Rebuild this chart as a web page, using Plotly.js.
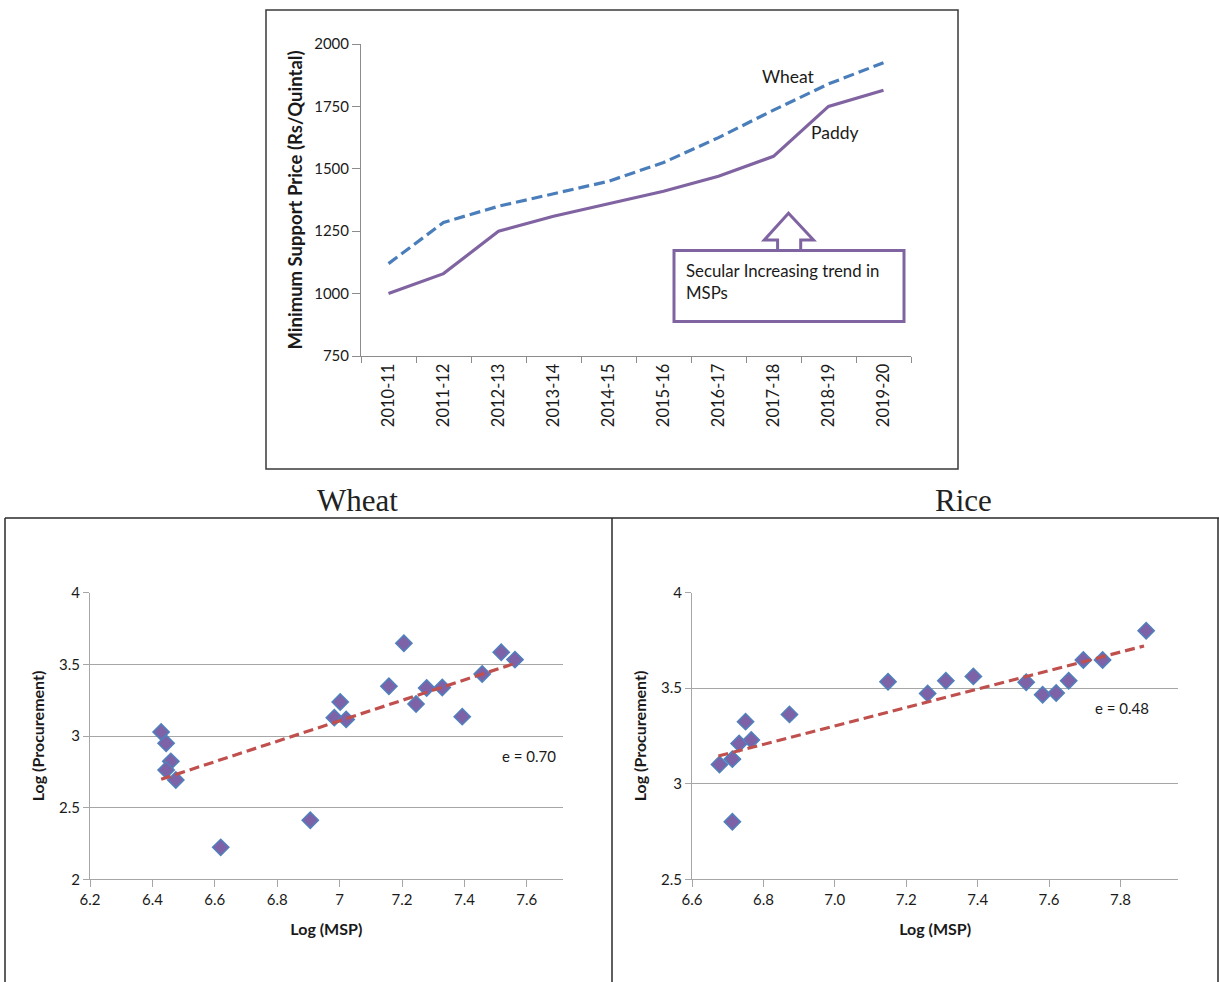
<!DOCTYPE html>
<html>
<head>
<meta charset="utf-8">
<script src="https://cdn.plot.ly/plotly-3.0.1.min.js"></script>
<style>
html,body{margin:0;padding:0;background:#fff;}
#chart{width:1219px;height:982px;}
</style>
</head>
<body>
<div id="chart"></div>
<script>
// ---------- data ----------
const years = ['2010-11','2011-12','2012-13','2013-14','2014-15','2015-16','2016-17','2017-18','2018-19','2019-20'];
const wheatMSP = [1120,1285,1350,1400,1450,1525,1625,1735,1840,1925];
const paddyMSP = [1000,1080,1250,1310,1360,1410,1470,1550,1750,1815];

const wheatLogMSP  = [6.428,6.444,6.459,6.444,6.475,6.619,6.906,6.983,7.002,7.021,7.158,7.206,7.245,7.279,7.329,7.393,7.457,7.518,7.562];
const wheatLogProc = [3.028,2.949,2.823,2.763,2.693,2.223,2.412,3.128,3.237,3.116,3.347,3.647,3.223,3.335,3.338,3.135,3.433,3.584,3.533];
const wheatTrendX = [6.428,7.562];
const wheatTrendY = [2.698,3.507];
const wheatElasticity = '0.70';

const riceLogMSP  = [6.677,6.713,6.713,6.732,6.750,6.766,6.873,7.149,7.260,7.311,7.388,7.536,7.582,7.620,7.655,7.696,7.750,7.872];
const riceLogProc = [3.101,3.129,2.801,3.211,3.325,3.229,3.363,3.534,3.473,3.539,3.562,3.531,3.466,3.475,3.539,3.648,3.648,3.801];
const riceTrendX = [6.674,7.866];
const riceTrendY = [3.145,3.721];
const riceElasticity = '0.48';

// ---------- helpers (pixel -> paper) ----------
const W = 1219, H = 982;
const fx = p => p / W;
const fy = p => 1 - p / H;

const FONT = 'Lato, "Open Sans", sans-serif';
const AX = '#8c8c8c';
const GRID = '#a6a6a6';
const TXT = '#1a1a1a';

const markerStyle = {symbol:'diamond', size:12.5, color:'#7E62A8', line:{color:'#4F81BD', width:1.5}};

const traces = [
  {x: years, y: wheatMSP, type:'scatter', mode:'lines', name:'Wheat', xaxis:'x', yaxis:'y',
   line:{color:'#4A7EBB', width:3.2, dash:'11px,5px'}},
  {x: years, y: paddyMSP, type:'scatter', mode:'lines', name:'Paddy', xaxis:'x', yaxis:'y',
   line:{color:'#8064A2', width:3.2}},
  {x: wheatLogMSP, y: wheatLogProc, type:'scatter', mode:'markers', name:'Wheat', xaxis:'x2', yaxis:'y2', marker: markerStyle},
  {x: wheatTrendX, y: wheatTrendY, type:'scatter', mode:'lines', name:'Wheat trend', xaxis:'x2', yaxis:'y2',
   line:{color:'#C0504D', width:3.2, dash:'10px,5px'}},
  {x: riceLogMSP, y: riceLogProc, type:'scatter', mode:'markers', name:'Rice', xaxis:'x3', yaxis:'y3', marker: markerStyle},
  {x: riceTrendX, y: riceTrendY, type:'scatter', mode:'lines', name:'Rice trend', xaxis:'x3', yaxis:'y3',
   line:{color:'#C0504D', width:3.2, dash:'10px,5px'}}
];

const tickFont = {family: FONT, size: 15, color: TXT};
const titleFont = {family: FONT, size: 16, color: TXT};

function scatterX(domain, range, fmt){
  return {domain: domain, range: range, tick0: range[0], dtick: 0.2, tickformat: fmt,
    showgrid:false, zeroline:false, showline:true, linecolor:GRID, linewidth:1,
    ticks:'outside', ticklen:7, tickcolor:GRID, tickfont: tickFont, automargin:false,
    title:{text:'<b>Log (MSP)</b>', font: titleFont, standoff: 16}};
}
function scatterY(domain, range, anchor){
  return {domain: domain, range: range, dtick: 0.5, anchor: anchor,
    showgrid:true, gridcolor:GRID, gridwidth:1, zeroline:false, showline:true, linecolor:GRID, linewidth:1,
    ticks:'outside', ticklen:6, tickcolor:GRID, tickfont: tickFont, automargin:false,
    title:{text:'<b>Log (Procurement)</b>', font: titleFont, standoff: 10}};
}

const layout = {
  width: W, height: H,
  margin:{l:0, r:0, t:0, b:0},
  paper_bgcolor:'#ffffff', plot_bgcolor:'rgba(0,0,0,0)',
  showlegend:false,
  font:{family: FONT, color: TXT},
  xaxis:{domain:[fx(361), fx(911)], anchor:'y', type:'category', range:[-0.5, 9.5],
    tickson:'boundaries', ticks:'outside', ticklen:6, tickcolor:AX,
    showline:true, linecolor:AX, linewidth:1, showgrid:false, zeroline:false,
    tickangle:-90, tickfont:{family: FONT, size:16.5, color: TXT}, automargin:false},
  yaxis:{domain:[fy(356), fy(44)], anchor:'x', range:[750, 2000], tickvals:[750,1000,1250,1500,1750,2000],
    ticks:'outside', ticklen:8, tickcolor:AX, showline:true, linecolor:AX, linewidth:1,
    showgrid:false, zeroline:false, tickfont:{family: FONT, size:15, color: TXT}, automargin:false,
    title:{text:'<b>Minimum Support Price (Rs/Quintal)</b>', font:{family: FONT, size:18.5, color: TXT}, standoff: 6}},
  xaxis2: Object.assign(scatterX([fx(90), fx(562.7)], [6.2, 7.715], ''), {anchor:'y2'}),
  yaxis2: scatterY([fy(879.3), fy(592.7)], [2, 4], 'x2'),
  xaxis3: Object.assign(scatterX([fx(692), fx(1178.3)], [6.6, 7.962], '.1f'), {anchor:'y3'}),
  yaxis3: scatterY([fy(879.3), fy(592.7)], [2.5, 4], 'x3'),
  shapes: [
    // top chart frame
    {type:'rect', xref:'paper', yref:'paper', x0:fx(266), x1:fx(958), y0:fy(469), y1:fy(10),
     line:{color:'#3a3a3a', width:1.5}},
    // bottom frames
    {type:'line', xref:'paper', yref:'paper', x0:fx(5), x1:fx(1219), y0:fy(518), y1:fy(518), line:{color:'#2a2a2a', width:1.5}},
    {type:'line', xref:'paper', yref:'paper', x0:fx(5), x1:fx(5), y0:fy(518), y1:fy(982), line:{color:'#2a2a2a', width:1.5}},
    {type:'line', xref:'paper', yref:'paper', x0:fx(612), x1:fx(612), y0:fy(518), y1:fy(982), line:{color:'#2a2a2a', width:1.5}},
    {type:'line', xref:'paper', yref:'paper', x0:fx(1218), x1:fx(1218), y0:fy(518), y1:fy(982), line:{color:'#2a2a2a', width:1.5}},
    // callout box
    {type:'rect', xref:'paper', yref:'paper', x0:fx(674), x1:fx(904), y0:fy(321.5), y1:fy(250.5),
     line:{color:'#8064A2', width:3}, fillcolor:'#ffffff'},
    // up arrow
    {type:'path', xref:'paper', yref:'paper',
     path:'M '+fx(777.6)+','+fy(250.5)+' L '+fx(777.6)+','+fy(240)+' L '+fx(764.3)+','+fy(240)+
          ' L '+fx(788.5)+','+fy(213.3)+' L '+fx(813.5)+','+fy(240)+' L '+fx(800.7)+','+fy(240)+
          ' L '+fx(800.7)+','+fy(250.5),
     line:{color:'#8064A2', width:3}, fillcolor:'rgba(255,255,255,0)'}
  ],
  annotations: [
    {xref:'paper', yref:'paper', x:fx(789), y:fy(76), text:'Wheat', showarrow:false,
     font:{family: FONT, size:17.5, color: TXT}, xanchor:'center', yanchor:'middle'},
    {xref:'paper', yref:'paper', x:fx(835), y:fy(132.5), text:'Paddy', showarrow:false,
     font:{family: FONT, size:17.5, color: TXT}, xanchor:'center', yanchor:'middle'},
    {xref:'paper', yref:'paper', x:fx(684), y:fy(258), text:'Secular Increasing trend in<br>MSPs', showarrow:false,
     align:'left', xanchor:'left', yanchor:'top', font:{family: FONT, size:16.8, color: TXT}},
    {xref:'paper', yref:'paper', x:fx(357), y:fy(500), text:'Wheat', showarrow:false,
     font:{family:'"Liberation Serif", "Times New Roman", serif', size:31, color:'#222'}, xanchor:'center', yanchor:'middle'},
    {xref:'paper', yref:'paper', x:fx(963), y:fy(500), text:'Rice', showarrow:false,
     font:{family:'"Liberation Serif", "Times New Roman", serif', size:31, color:'#222'}, xanchor:'center', yanchor:'middle'},
    {xref:'paper', yref:'paper', x:fx(529), y:fy(756), text:'e = ' + wheatElasticity, showarrow:false,
     font:{family: FONT, size:15, color: TXT}, xanchor:'center', yanchor:'middle'},
    {xref:'paper', yref:'paper', x:fx(1122), y:fy(708), text:'e = ' + riceElasticity, showarrow:false,
     font:{family: FONT, size:15, color: TXT}, xanchor:'center', yanchor:'middle'}
  ]
};

Plotly.newPlot('chart', traces, layout, {displayModeBar:false, staticPlot:true});
</script>
</body>
</html>
